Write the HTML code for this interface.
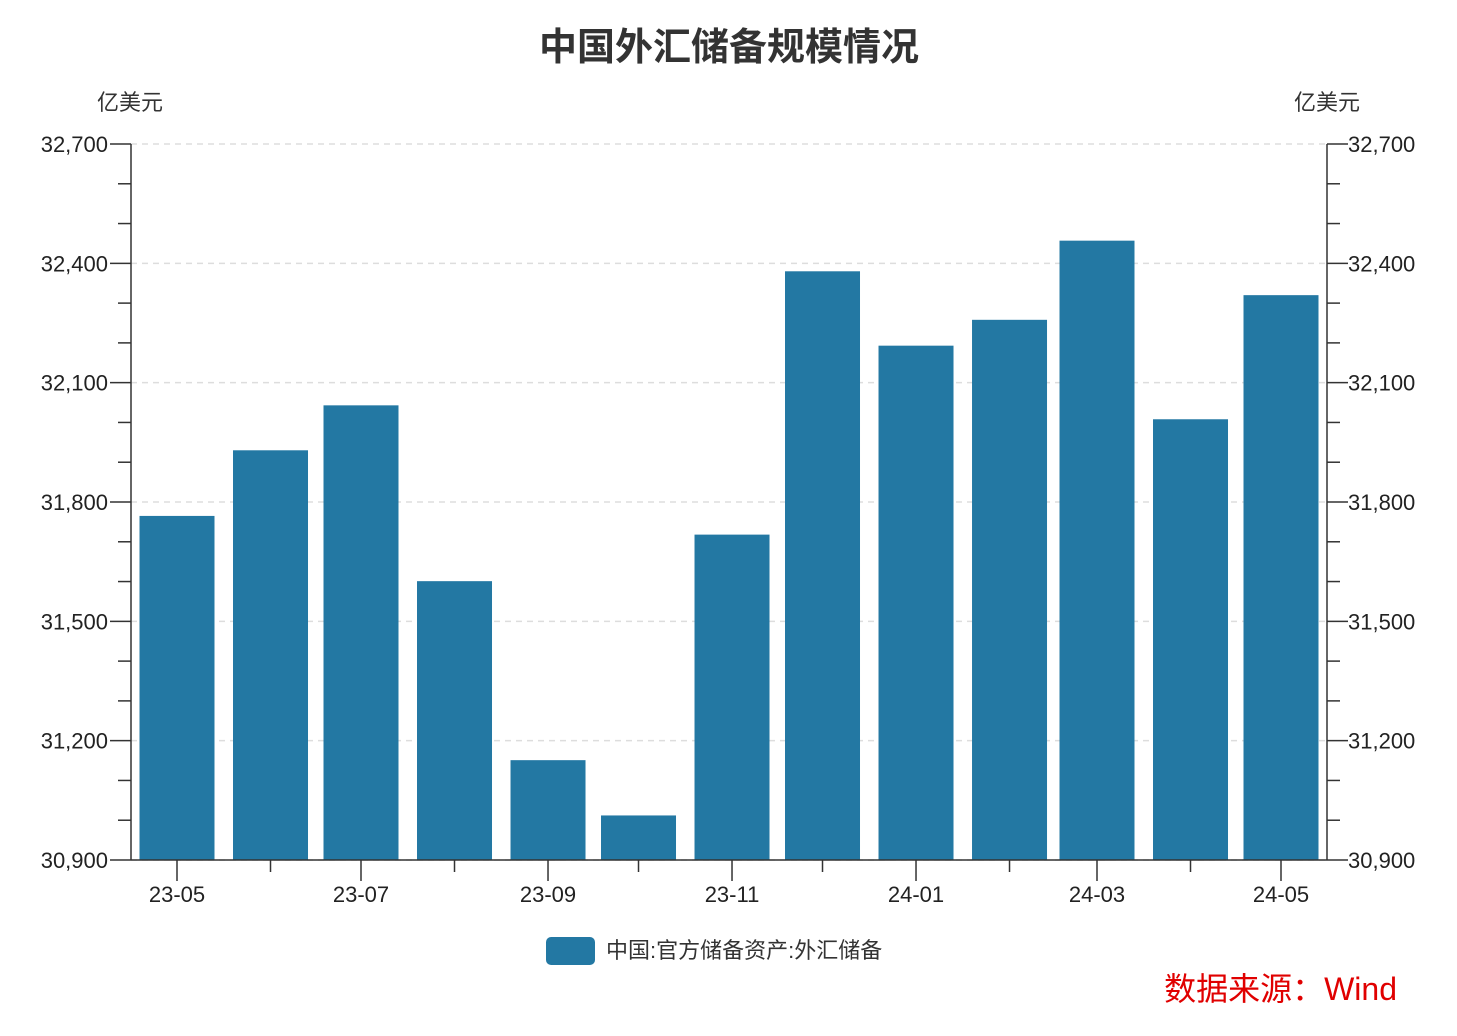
<!DOCTYPE html>
<html><head><meta charset="utf-8"><style>
body{margin:0;background:#fff;}
svg text{font-family:"Liberation Sans","Noto Sans CJK SC",sans-serif;}
</style></head><body>
<svg id="chart" width="1457" height="1031" viewBox="0 0 1457 1031" xmlns="http://www.w3.org/2000/svg">
<rect width="1457" height="1031" fill="#fff"/>
<text x="729" y="60" text-anchor="middle" font-size="38" font-weight="bold" fill="#333">中国外汇储备规模情况</text>
<text x="130" y="110" text-anchor="middle" font-size="22" fill="#333">亿美元</text>
<text x="1327" y="110" text-anchor="middle" font-size="22" fill="#333">亿美元</text>
<g id="grid"></g><g id="bars"></g><g id="axes"></g>
<rect x="546" y="937" width="49" height="28" rx="5" fill="#2378a3"/>
<text x="606" y="958" font-size="22" fill="#333">中国:官方储备资产:外汇储备</text>
<text x="1397" y="1000" text-anchor="end" font-size="32" fill="#e00000">数据来源：Wind</text>
</svg>
<script>
const months = ["2023-05","2023-06","2023-07","2023-08","2023-09","2023-10","2023-11","2023-12","2024-01","2024-02","2024-03","2024-04","2024-05"];
const reserves = [31765,31930,32043,31601,31151,31012,31718,32380,32193,32258,32457,32008,32320];
const yTicks = [30900,31200,31500,31800,32100,32400,32700];
const xTickLabels = ["23-05","23-07","23-09","23-11","24-01","24-03","24-05"];
const NS="http://www.w3.org/2000/svg";
const X0=131,X1=1327,Y0=860,Y1=144,yMin=30900,yMax=32700;
const t0=Date.UTC(2023,4,1),t1=Date.UTC(2024,4,1);
function y(v){return Y0-(v-yMin)/(yMax-yMin)*(Y0-Y1);}
function dx(m){const [a,b]=m.split("-").map(Number);const t=Date.UTC(a,b-1,1);return 177+(t-t0)/(t1-t0)*(1281-177);}
function mk(tag,attrs,parent){const e=document.createElementNS(NS,tag);for(const k in attrs)e.setAttribute(k,attrs[k]);document.getElementById(parent).appendChild(e);return e;}
yTicks.forEach(v=>{
  const g=mk("line",{x1:X0,x2:X1,y1:y(v),y2:y(v),stroke:"#ddd","stroke-dasharray":"6,5","stroke-width":1.5},"grid");
  
  
});
months.forEach((m,i)=>{
  const r=mk("rect",{x:dx(m)-37.5,y:y(reserves[i]),width:75,height:Y0-y(reserves[i]),fill:"#2378a3"},"bars");
  
  
});
const A={stroke:"#333","stroke-width":1.5};
mk("line",Object.assign({x1:X0,x2:X0,y1:Y1,y2:Y0},A),"axes");
mk("line",Object.assign({x1:X1,x2:X1,y1:Y1,y2:Y0},A),"axes");
mk("line",Object.assign({x1:X0,x2:X1,y1:Y0,y2:Y0},A),"axes");
for(let v=yMin;v<=yMax;v+=100){
  const major=(v-yMin)%300===0;const L=major?21:13;
  mk("line",Object.assign({x1:X0-L,x2:X0,y1:y(v),y2:y(v)},A),"axes");
  mk("line",Object.assign({x1:X1,x2:X1+L,y1:y(v),y2:y(v)},A),"axes");
}
yTicks.forEach(v=>{
  const s=v.toLocaleString("en-US");
  const a=mk("text",{x:108,y:y(v)+8,"text-anchor":"end","font-size":22,fill:"#222"},"axes");a.textContent=s;
  
  
  const b=mk("text",{x:1348,y:y(v)+8,"font-size":22,fill:"#222"},"axes");b.textContent=s;
  
  
});
months.forEach((m,i)=>{
  const major=i%2===0;
  mk("line",Object.assign({x1:dx(m),x2:dx(m),y1:Y0,y2:Y0+(major?21:12)},A),"axes");
});
xTickLabels.forEach((l,i)=>{
  const t=mk("text",{x:dx(months[i*2]),y:902,"text-anchor":"middle","font-size":22,fill:"#222"},"axes");t.textContent=l;
  
  
});
</script>
</body></html>
